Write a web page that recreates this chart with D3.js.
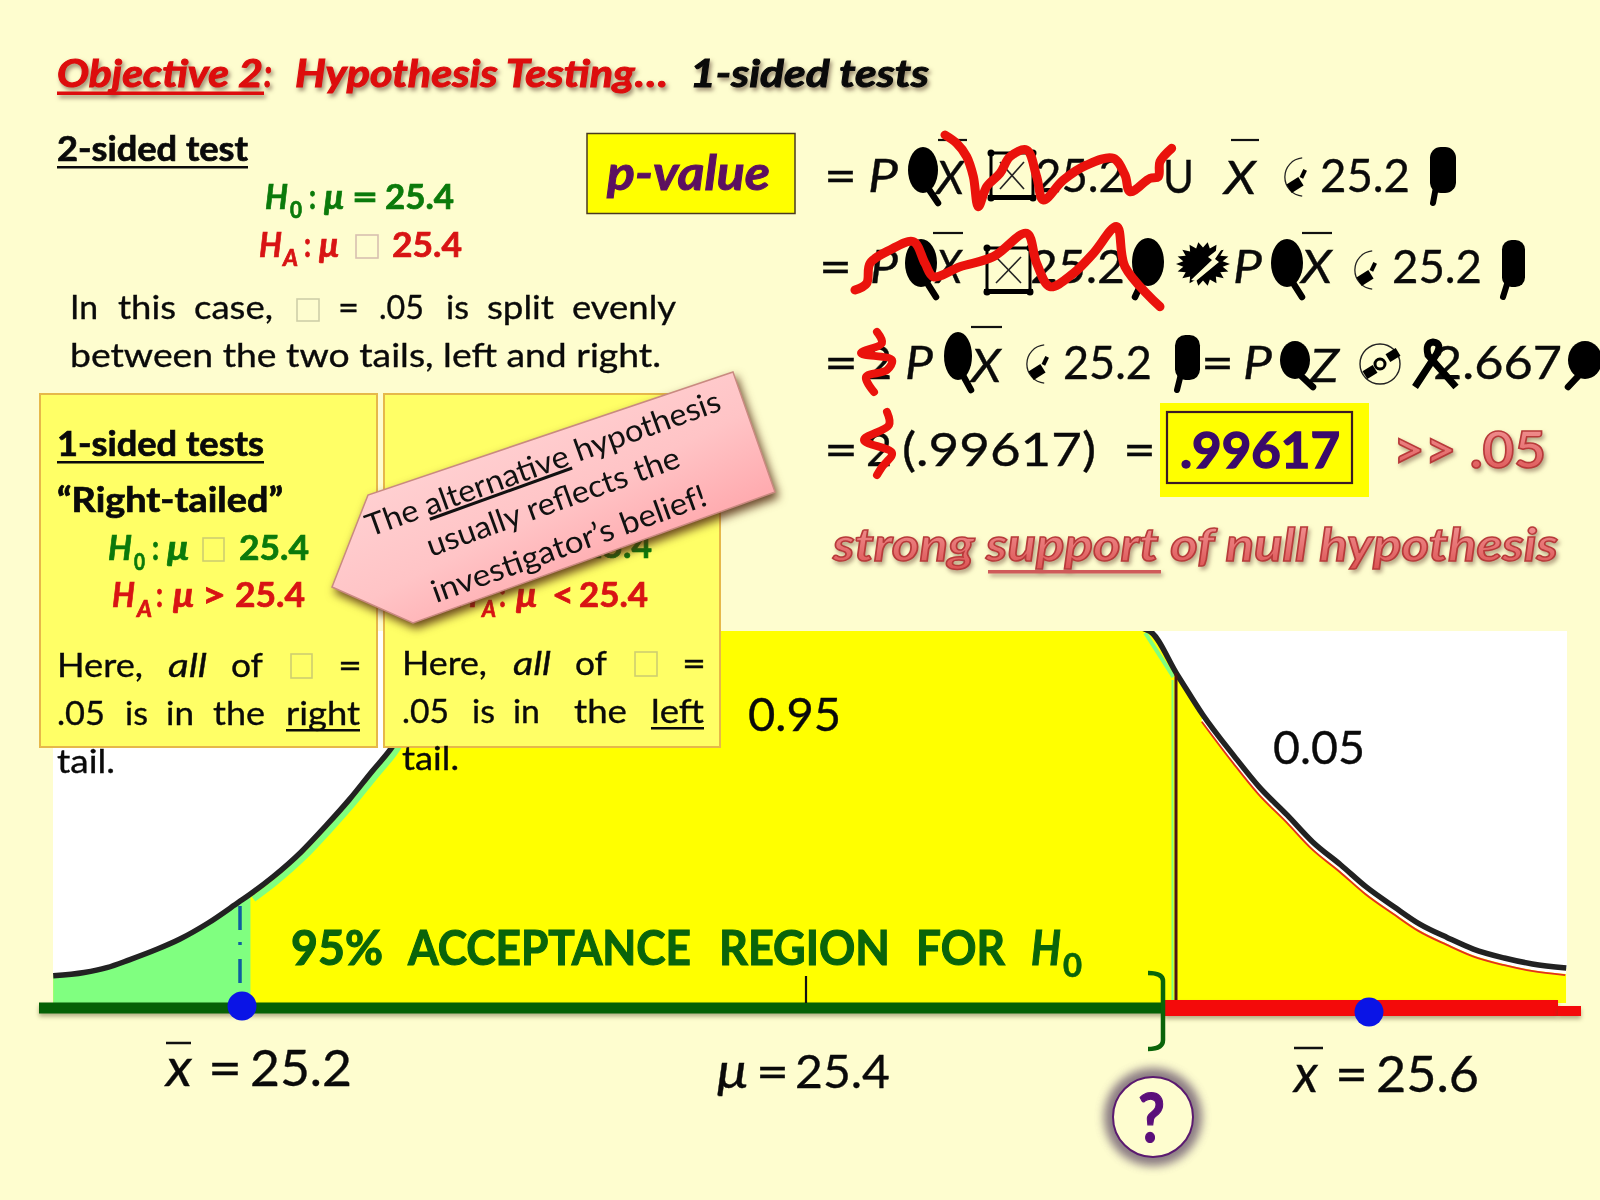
<!DOCTYPE html>
<html><head><meta charset="utf-8">
<script src="https://cdn.jsdelivr.net/npm/d3@7/dist/d3.min.js"></script>
<style>html,body{margin:0;padding:0;background:#fefdcf}svg{display:block;filter:blur(0.45px)}text{font-family:Lato,'Noto Sans',sans-serif}</style>
</head><body><svg id="c" width="1600" height="1200" viewBox="0 0 1600 1200"></svg>
<script>
// ---- values ----
const leftTailX   = [25.133,25.144,25.152,25.160,25.170,25.178,25.188,25.199,25.203,25.211,25.221,25.230,25.238,25.246,25.253,25.265,25.277];
const leftTailY   = [0.073,0.082,0.095,0.116,0.145,0.172,0.215,0.272,0.293,0.339,0.406,0.478,0.546,0.621,0.685,0.841,1.0];
const peakX       = [25.4];
const peakY       = [1.2];
const rightTailX  = [25.522,25.532,25.541,25.552,25.561,25.571,25.580,25.590,25.599,25.609,25.618,25.628,25.637,25.648,25.658,25.670];
const rightTailY  = [1.0,0.882,0.775,0.665,0.581,0.505,0.433,0.371,0.312,0.258,0.212,0.175,0.145,0.121,0.105,0.094];
const sampleMeans = [25.2,25.6];
const nullMean    = 25.4;
const criticalValue = 25.5315;
const acceptanceEnd = 25.5235;
const greenEnd    = 25.2023;
const regionLabels = ["0.95","0.05"];

const curve = [...leftTailX.map((x,i)=>({x,y:leftTailY[i]})),
               ...peakX.map((x,i)=>({x,y:peakY[i]})),
               ...rightTailX.map((x,i)=>({x,y:rightTailY[i]}))];

const svg = d3.select("#c");
const defs = svg.append("defs");
const X = d3.scaleLinear().domain([25.2,25.6]).range([242,1369]);
const Y = d3.scaleLinear().domain([0,1]).range([1003,631]);

defs.append("clipPath").attr("id","plot").append("rect").attr("x",53).attr("y",631).attr("width",1514).attr("height",385);
defs.append("filter").attr("id","blur4").attr("x","-40%").attr("y","-40%").attr("width","180%").attr("height","180%").append("feGaussianBlur").attr("stdDeviation",5);
const gl = defs.append("linearGradient").attr("id","gloss").attr("x1",0).attr("y1",0).attr("x2",0).attr("y2",1);
gl.append("stop").attr("offset","0%").attr("stop-color","#f49c9c");
gl.append("stop").attr("offset","100%").attr("stop-color","#dc5252");
const ag = defs.append("linearGradient").attr("id","arrowFill").attr("x1","0%").attr("y1","20%").attr("x2","70%").attr("y2","100%");
ag.append("stop").attr("offset","0%").attr("stop-color","#ffd9da");
ag.append("stop").attr("offset","55%").attr("stop-color","#ffc4c6");
ag.append("stop").attr("offset","100%").attr("stop-color","#ff989e");

svg.append("rect").attr("width",1600).attr("height",1200).attr("fill","#fefdcf");

function T(g,x0,x1,y,str,o={}){
  const fill=o.f||"#0a0a0a";
  const t=g.append("text").attr("x",x0).attr("y",y).text(str)
    .attr("font-size",o.s||33).attr("fill",fill)
    .attr("font-weight",o.b?700:400).attr("font-style",o.i?"italic":"normal");
  if(x1!==null) t.attr("textLength",x1-x0).attr("lengthAdjust","spacingAndGlyphs");
  if(o.sh) t.style("filter",o.sh);
  t.attr("stroke",o.st||fill).attr("stroke-width",o.sw!==undefined?o.sw:(o.b?0.7:0.35));
  return t;
}
function L(g,x1,y1,x2,y2,c,w){return g.append("line").attr("x1",x1).attr("y1",y1).attr("x2",x2).attr("y2",y2).attr("stroke",c).attr("stroke-width",w);}
function box(g,x0,x1,y0,y1,c){g.append("rect").attr("x",x0).attr("y",y0).attr("width",x1-x0).attr("height",y1-y0).attr("fill","none").attr("stroke",c).attr("stroke-width",1.6);}

// ---- distribution ----
const plot = svg.append("g");
plot.append("rect").attr("x",53).attr("y",631).attr("width",1514).attr("height",372).attr("fill","#fff");
const clip = plot.append("g").attr("clip-path","url(#plot)");
const area = d3.area().x(d=>X(d.x)).y0(Y(0)).y1(d=>Y(d.y)).curve(d3.curveMonotoneX);
const line = d3.line().x(d=>X(d.x)).y(d=>Y(d.y)).curve(d3.curveMonotoneX);
clip.append("path").datum(curve).attr("d",area).attr("fill","#ffff00");
clip.append("path").datum(curve.filter(d=>d.x<=greenEnd+.001)).attr("d",area).attr("fill","#80ff80");
// edge fringes that sit just under the curve
clip.append("path").datum(curve.filter(d=>d.x>=greenEnd&&d.x<25.3)).attr("d",line).attr("fill","none").attr("stroke","#80ff80").attr("stroke-width",6).attr("transform","translate(3,5)");
clip.append("path").datum(curve.filter(d=>d.x>=acceptanceEnd-.002&&d.x<=criticalValue+.001)).attr("d",line).attr("fill","none").attr("stroke","#80ff80").attr("stroke-width",4).attr("transform","translate(-4,2)");
const tail = curve.filter(d=>d.x>=criticalValue+.001);
clip.append("path").datum(tail).attr("d",line).attr("fill","none").attr("stroke","#fff").attr("stroke-width",4).attr("transform","translate(0,4)");
clip.append("path").datum(tail).attr("d",line).attr("fill","none").attr("stroke","#e2301c").attr("stroke-width",1.8).attr("transform","translate(-1,7)");
clip.append("path").datum(curve).attr("d",line).attr("fill","none").attr("stroke","#222").attr("stroke-width",5.5);
// critical line
L(plot,X(criticalValue)-3.5,680,X(criticalValue)-3.5,1000,"#80ff80",2);
L(plot,X(criticalValue),673,X(criticalValue),1000,"#4a1414",3);
// dashed drop line
L(plot,X(sampleMeans[0])-2,906,X(sampleMeans[0])-2,990,"#0f5fa0",3.5).attr("stroke-dasharray","24 12 3 14");

// labels on distribution
T(plot,748,841,731,regionLabels[0],{s:46});
T(plot,1273,1365,764,regionLabels[1],{s:46});
const grn="#0a640a";
const bigB={s:48,b:1,f:grn,sw:1.1};
T(plot,291,383,965,"95%",bigB);
T(plot,408,691,965,"ACCEPTANCE",bigB);
T(plot,719,890,965,"REGION",bigB);
T(plot,916,1005,965,"FOR",bigB);
T(plot,1031,1061,965,"H",{s:48,b:1,i:1,f:grn,sw:1.1});
T(plot,1063,1082,977,"0",{s:32,b:1,f:grn});

// axis bars + tick + dots
const barShadow="drop-shadow(0 3px 2px rgba(90,80,40,.45))";
const ax = svg.append("g");
ax.append("rect").attr("x",39).attr("y",1002.5).attr("width",1126).attr("height",11).attr("fill","#056005").style("filter",barShadow);
ax.append("rect").attr("x",1165).attr("y",1000).attr("width",393).attr("height",16).attr("fill","#f40a0a").style("filter",barShadow);
ax.append("rect").attr("x",1558).attr("y",1006).attr("width",23).attr("height",10).attr("fill","#f40a0a").style("filter",barShadow);
const tickAxis = d3.axisTop(X).tickValues([nullMean]).tickSize(27).tickFormat("");
const tg = ax.append("g").attr("transform","translate(0,1003)").call(tickAxis);
tg.select(".domain").remove(); tg.selectAll("line").attr("stroke","#111").attr("stroke-width",2.2);
ax.append("path").attr("d","M1148,973 Q1163,973 1163,981 L1163,1040 Q1163,1049 1148,1049").attr("fill","none").attr("stroke","#0a640a").attr("stroke-width",4.5);
ax.selectAll("circle.mean").data(sampleMeans).join("circle").attr("class","mean")
  .attr("cx",d=>X(d)).attr("cy",(d,i)=>i?1012:1006).attr("r",14.5).attr("fill","#0a14e6");

// axis labels
const lb=svg.append("g");
T(lb,166,192,1086,"x",{s:52,i:1}); L(lb,166,1043,191,1043,"#111",2.5);
T(lb,208,242,1086,"=",{s:50}); T(lb,250,352,1086,"25.2",{s:50});
T(lb,717,748,1088,"μ",{s:48,i:1}); T(lb,756,789,1088,"=",{s:47}); T(lb,795,890,1088,"25.4",{s:47});
T(lb,1294,1318,1092,"x",{s:52,i:1}); L(lb,1294,1048,1323,1048,"#111",2.5);
T(lb,1335,1368,1092,"=",{s:50}); T(lb,1376,1479,1092,"25.6",{s:50});

// "?" badge
const q=svg.append("g");
q.append("circle").attr("cx",1153).attr("cy",1117).attr("r",49).attr("fill","#6d5a70").attr("opacity",.8).attr("filter","url(#blur4)");
q.append("circle").attr("cx",1153).attr("cy",1117).attr("r",40).attr("fill","#fefdcf").attr("stroke","#5b1a70").attr("stroke-width",2);
T(q,1138,1165,1142,"?",{s:66,b:1,f:"#5b0f7a",sw:1.2});

// ---- title ----
const shR="drop-shadow(2px 3px 2px rgba(60,30,20,.5))";
const ttl=svg.append("g");
const tt={s:38,b:1,i:1,f:"#dd0d0d",sh:shR,sw:1};
T(ttl,57,263,87,"Objective 2",tt);
T(ttl,264,272,87,":",tt);
ttl.append("rect").attr("x",57).attr("y",91.5).attr("width",207).attr("height",3.5).attr("fill","#dd0d0d").style("filter",shR);
T(ttl,295,668,87,"Hypothesis Testing…",tt);
T(ttl,690,929,87,"1-sided  tests",{s:38,b:1,i:1,f:"#0a0a0a",sh:shR,sw:1});

// ---- 2-sided block ----
const grn2="#0b7a0b", red2="#d81414", boxC="#cfcfa8";
const tw=svg.append("g");
T(tw,57,248,161,"2-sided test",{s:34,b:1});
tw.append("rect").attr("x",57).attr("y",166).attr("width",191).attr("height",2.5).attr("fill","#0a0a0a");
T(tw,265,288,209,"H",{s:34,b:1,i:1,f:grn2}); T(tw,290,302,218,"0",{s:23,b:1,f:grn2}); T(tw,309,316,209,":",{s:34,b:1,f:grn2});
T(tw,324,344,209,"μ",{s:34,b:1,i:1,f:grn2}); T(tw,352,378,209,"=",{s:34,b:1,f:grn2}); T(tw,385,454,209,"25.4",{s:34,b:1,f:grn2});
T(tw,259,282,257,"H",{s:34,b:1,i:1,f:red2}); T(tw,283,298,266,"A",{s:23,b:1,i:1,f:red2}); T(tw,304,311,257,":",{s:34,b:1,f:red2});
T(tw,319,339,257,"μ",{s:34,b:1,i:1,f:red2}); box(tw,356,378,235,258,"#d8c0b0"); T(tw,392,462,257,"25.4",{s:34,b:1,f:red2});
[["In",70,98],["this",118,176],["case,",194,273],["=",338,359],[".05",379,424],["is",446,469],["split",487,554],["evenly",572,676]]
  .forEach(w=>T(tw,w[1],w[2],319,w[0],{s:33}));
box(tw,297,319,299,321,boxC);
T(tw,70,661,367,"between the two tails, left and right.",{s:33});

// ---- p-value box ----
const pv=svg.append("g");
pv.append("rect").attr("x",587).attr("y",133.5).attr("width",208).attr("height",80).attr("fill","#ffff00").attr("stroke","#4a3a20").attr("stroke-width",1.5);
T(pv,607,770,190,"p-value",{s:48,b:1,i:1,f:"#5c1060",sw:1});

// ---- equations: the text ----
const eq=svg.append("g");
const S=46;
function bar(x0,x1,y){L(eq,x0,y,x1,y,"#111",2.2);}
// line 1
T(eq,824,857,192,"=",{s:S}); T(eq,868,898,192,"P",{s:S,i:1}); T(eq,936,964,194,"X",{s:S,i:1}); bar(938,967,140);
T(eq,1035,1125,192,"25.2",{s:S}); T(eq,1163,1194,193,"U",{s:S}); T(eq,1224,1256,194,"X",{s:S,i:1}); bar(1231,1259,140);
T(eq,1320,1410,192,"25.2",{s:S});
// line 2
T(eq,819,852,283,"=",{s:S}); T(eq,870,898,283,"P",{s:S,i:1}); T(eq,936,962,283,"X",{s:S,i:1}); bar(933,963,233);
T(eq,1030,1125,283,"25.2",{s:S}); T(eq,1233,1262,283,"P",{s:S,i:1}); T(eq,1301,1332,283,"X",{s:S,i:1}); bar(1302,1332,233);
T(eq,1392,1482,283,"25.2",{s:S});
// line 3
T(eq,824,858,379,"=",{s:S}); T(eq,866,892,379,"2",{s:S}); T(eq,905,933,379,"P",{s:S,i:1}); T(eq,971,1001,382,"X",{s:S,i:1}); bar(971,1002,327);
T(eq,1063,1152,379,"25.2",{s:S}); T(eq,1201,1234,379,"=",{s:S}); T(eq,1243,1272,379,"P",{s:S,i:1}); T(eq,1310,1339,382,"Z",{s:S,i:1});
T(eq,1433,1562,379,"2.667",{s:S});
// line 4
T(eq,824,858,466,"=",{s:S}); T(eq,866,892,466,"2",{s:S}); T(eq,902,1096,466,"(.99617)",{s:S}); T(eq,1123,1156,466,"=",{s:S});
eq.append("rect").attr("x",1160).attr("y",403).attr("width",209).attr("height",94).attr("fill","#ffff00");
eq.append("rect").attr("x",1167).attr("y",412).attr("width",185).attr("height",71).attr("fill","none").attr("stroke","#3a1a24").attr("stroke-width",2.2);
T(eq,1180,1340,468,".99617",{s:50,b:1,f:"#3a0a6a",sw:1.4});
const shG="drop-shadow(2px 3px 2px rgba(120,90,70,.55))";
T(eq,1393,1546,468,">> .05",{s:52,b:1,f:"url(#gloss)",st:"#b83a3a",sw:1.6,sh:shG});
T(eq,833,1558,561,"strong support of null hypothesis",{s:46,b:1,i:1,f:"url(#gloss)",st:"#b83a3a",sw:1.5,sh:shG});
eq.append("rect").attr("x",988).attr("y",570).attr("width",173).attr("height",3.5).attr("fill","#cf5a5a").style("filter",shG);

// ---- equations: the substituted symbol glyphs ----
function blob(cx,cy,rx,ry,tx,ty){
  eq.append("ellipse").attr("cx",cx).attr("cy",cy).attr("rx",rx).attr("ry",ry).attr("fill","#000");
  eq.append("path").attr("d",`M${cx+(tx>cx?rx*.35:-rx*.35)},${cy+ry*.8} L${tx},${ty}`).attr("stroke","#000").attr("stroke-width",6.5).attr("stroke-linecap","round").attr("fill","none");
}
function pill(x0,x1,y0,y1,tx,ty){
  eq.append("rect").attr("x",x0).attr("y",y0).attr("width",x1-x0).attr("height",y1-y0).attr("rx",(x1-x0)/2.4).attr("fill","#000");
  eq.append("path").attr("d",`M${x0+6},${y1-6} L${tx},${ty}`).attr("stroke","#000").attr("stroke-width",6).attr("stroke-linecap","round").attr("fill","none");
}
blob(923,170,15,23,938,203); pill(1430,1456,147,193,1433,203);
blob(921,263,16,24,936,297); blob(1148,262,16,24,1135,297); blob(1287,263,16,24,1302,297); pill(1502,1525,240,287,1503,297);
blob(958,356,14,24,971,390); pill(1175,1200,335,380,1177,390);
blob(1295,360,15,19,1313,387); blob(1585,360,17,19,1568,387);

function frame(x0,x1,y0,y1){
  eq.append("rect").attr("x",x0).attr("y",y0).attr("width",x1-x0).attr("height",y1-y0).attr("fill","none").attr("stroke","#000").attr("stroke-width",3);
  eq.append("rect").attr("x",x0-3).attr("y",y1-3).attr("width",x1-x0+6).attr("height",5).attr("fill","#000");
  [[x0,y0],[x1,y0],[x0,y1],[x1,y1]].forEach(p=>eq.append("circle").attr("cx",p[0]).attr("cy",p[1]).attr("r",3.5).attr("fill","#000"));
  L(eq,x0+9,y0+9,x1-9,y1-9,"#222",1.6); L(eq,x1-9,y0+9,x0+9,y1-9,"#222",1.6);
}
frame(991,1033,153,198); frame(987,1030,248,292);

function halfDisc(cx,cy,r){
  const g=eq.append("g").attr("transform",`translate(${cx},${cy})`);
  g.append("path").attr("d",d3.arc()({innerRadius:r-.5,outerRadius:r+.8,startAngle:Math.PI*1.03,endAngle:Math.PI*1.97})).attr("fill","#222");
  g.append("rect").attr("x",-7).attr("y",-5).attr("width",14).attr("height",10).attr("transform","translate(-9,8) rotate(-32)").attr("fill","#000");
  g.append("rect").attr("x",-4).attr("y",-7).attr("width",4).attr("height",9).attr("transform","rotate(25)").attr("fill","#000");
}
halfDisc(1304,177,19); halfDisc(1374,270,19); halfDisc(1046,364,19);

const disc=eq.append("g").attr("transform","translate(1380,364)");
disc.append("circle").attr("r",20).attr("fill","none").attr("stroke","#222").attr("stroke-width",1.4);
disc.append("circle").attr("r",5).attr("fill","none").attr("stroke","#000").attr("stroke-width",3);
[[-10,8],[13,-9]].forEach(p=>disc.append("rect").attr("x",-6).attr("y",-4.5).attr("width",12).attr("height",9).attr("transform",`translate(${p[0]},${p[1]}) rotate(-32)`).attr("fill","#000"));

eq.append("path").attr("d","M1415,387 L1436,355 Q1443,343 1433,342 Q1425,343 1428,355 L1456,387").attr("fill","none").attr("stroke","#000").attr("stroke-width",7);

const star=d3.range(36).map(i=>{const a=i/36*2*Math.PI, r=i%2?20:27;return [1203+r*Math.cos(a),264+r*.82*Math.sin(a)];});
eq.append("polygon").attr("points",star.join(" ")).attr("fill","#000");
eq.append("polygon").attr("points","1226,243 1208,257 1212,260 1191,280 1196,281 1219,262 1215,259").attr("fill","#fefdcf");

// ---- yellow panels ----
const pn=svg.append("g");
[[40,337],[384,336]].forEach(p=>pn.append("rect").attr("x",p[0]).attr("y",394).attr("width",p[1]).attr("height",353).attr("fill","#ffff66").attr("stroke","#e6b84a").attr("stroke-width",2));
T(pn,57,264,456,"1-sided tests",{s:34,b:1});
pn.append("rect").attr("x",57).attr("y",461).attr("width",207).attr("height",2.5).attr("fill","#0a0a0a");
T(pn,57,283,512,"“Right-tailed”",{s:34,b:1});
T(pn,108,132,560,"H",{s:34,b:1,i:1,f:grn2}); T(pn,134,145,570,"0",{s:23,b:1,f:grn2}); T(pn,152,159,560,":",{s:34,b:1,f:grn2});
T(pn,167,189,560,"μ",{s:34,b:1,i:1,f:grn2}); box(pn,203,224,538,561,"#cfcf70"); T(pn,239,309,560,"25.4",{s:34,b:1,f:grn2});
T(pn,112,135,607,"H",{s:34,b:1,i:1,f:red2}); T(pn,137,152,617,"A",{s:23,b:1,i:1,f:red2}); T(pn,156,163,607,":",{s:34,b:1,f:red2});
T(pn,173,194,607,"μ",{s:34,b:1,i:1,f:red2}); T(pn,202,226,607,">",{s:34,b:1,f:red2}); T(pn,235,305,607,"25.4",{s:34,b:1,f:red2});
T(pn,57,143,677,"Here,",{s:33}); T(pn,168,207,677,"all",{s:33,i:1}); T(pn,231,263,677,"of",{s:33}); box(pn,291,312,654,678,"#cfcf70"); T(pn,338,362,677,"=",{s:33});
T(pn,57,105,725,".05",{s:33}); T(pn,125,148,725,"is",{s:33}); T(pn,166,194,725,"in",{s:33}); T(pn,213,265,725,"the",{s:33}); T(pn,286,360,725,"right",{s:33});
pn.append("rect").attr("x",286).attr("y",729).attr("width",74).attr("height",2.5).attr("fill","#0a0a0a");
T(pn,57,115,773,"tail.",{s:33});
// second panel
T(pn,402,620,512,"“Left-tailed”",{s:34,b:1});
T(pn,451,475,558,"H",{s:34,b:1,i:1,f:grn2}); T(pn,477,488,568,"0",{s:23,b:1,f:grn2}); T(pn,510,532,558,"μ",{s:34,b:1,i:1,f:grn2}); T(pn,582,652,558,"25.4",{s:34,b:1,f:grn2});
T(pn,455,478,607,"H",{s:34,b:1,i:1,f:red2}); T(pn,482,496,617,"A",{s:23,b:1,i:1,f:red2}); T(pn,499,506,607,":",{s:34,b:1,f:red2});
T(pn,516,537,607,"μ",{s:34,b:1,i:1,f:red2}); T(pn,552,574,607,"<",{s:34,b:1,f:red2}); T(pn,579,648,607,"25.4",{s:34,b:1,f:red2});
T(pn,402,487,675,"Here,",{s:33}); T(pn,513,551,675,"all",{s:33,i:1}); T(pn,575,607,675,"of",{s:33}); box(pn,635,657,652,676,"#cfcf70"); T(pn,682,706,675,"=",{s:33});
T(pn,402,449,723,".05",{s:33}); T(pn,472,495,723,"is",{s:33}); T(pn,513,540,723,"in",{s:33}); T(pn,574,627,723,"the",{s:33}); T(pn,651,704,723,"left",{s:33});
pn.append("rect").attr("x",651).attr("y",727).attr("width",53).attr("height",2.5).attr("fill","#0a0a0a");
T(pn,402,459,770,"tail.",{s:33});

// ---- callout arrow ----
const ar=svg.append("g");
ar.append("polygon").attr("points","733,372 775,492 413,623 332,587 368,495")
  .attr("fill","url(#arrowFill)").attr("stroke","#c98a80").attr("stroke-width",1.5)
  .style("filter","drop-shadow(3px 5px 5px rgba(80,40,15,.85))");
function rotLine(x,y,len,build){
  const g=ar.append("g").attr("transform",`translate(${x},${y}) rotate(-19.8)`);
  const t=g.append("text").attr("x",0).attr("y",0).attr("font-size",31).attr("fill","#111")
    .attr("textLength",len).attr("lengthAdjust","spacingAndGlyphs");
  build(t);
}
rotLine(370,537,375,t=>{t.append("tspan").text("The ");t.append("tspan").attr("text-decoration","underline").text("alternative");t.append("tspan").text(" hypothesis");});
rotLine(431,557,267,t=>t.text("usually reflects the"));
rotLine(436,603,290,t=>t.text("investigator’s belief!"));

// ---- red strike-throughs ----
const sc=svg.append("g");
const strokeLine=d3.line().curve(d3.curveCatmullRom.alpha(.5));
const scribble=(pts,w)=>sc.append("path").attr("d",strokeLine(pts)).attr("fill","none").attr("stroke","#ea120c").attr("stroke-width",w).attr("stroke-linecap","round").attr("stroke-linejoin","round");
const z7=a=>a.map(p=>[810+p[0]/3,120+p[1]/3]);
scribble(z7([[405,45],[440,70],[470,110],[490,170],[505,260],[530,200],[570,160],[600,110],[650,90],[680,170],[700,240],[760,180],[830,135],[910,115],[945,165],[960,215],[1020,175],[1045,170],[1050,125],[1085,85]]),9);
scribble(z7([[135,510],[170,490],[180,430],[240,390],[310,365],[345,430],[370,470],[450,440],[550,410],[650,340],[680,430],[720,500],[790,460],[850,400],[920,320],[945,440],[1050,560]]),9);
scribble([[877,332],[882,343],[861,353],[892,360],[887,370],[866,377],[874,392]],8);
scribble([[887,412],[889,425],[864,440],[892,453],[882,467],[877,475]],8);
</script></body></html>
